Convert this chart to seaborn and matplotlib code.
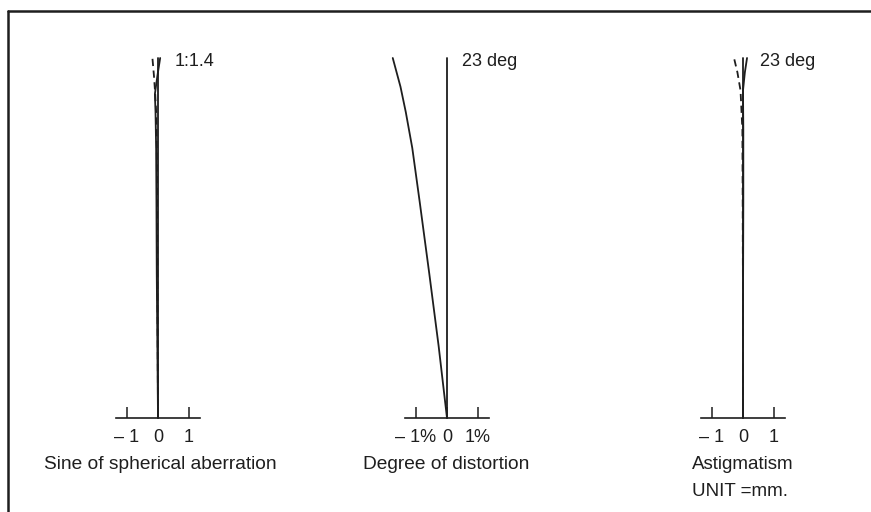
import seaborn as sns
import matplotlib.pyplot as plt
from matplotlib.lines import Line2D

# relative height in the field (0 = axis, 1 = edge)
sa_height = [0.0, 0.2, 0.4, 0.6, 0.75, 0.85, 0.9, 0.95, 1.0]
sa_solid = [0.0, -0.02, -0.04, -0.05, -0.06, -0.08, -0.1, -0.02, 0.07]
sa_dashed = [0.0, -0.01, -0.02, -0.03, -0.04, -0.06, -0.09, -0.13, -0.18]

dist_height = [0.0, 0.2, 0.4, 0.6, 0.75, 0.85, 0.92, 1.0]
dist_pct = [0.0, -0.27, -0.57, -0.88, -1.12, -1.33, -1.5, -1.75]

ast_height = [0.0, 0.3, 0.6, 0.8, 0.91, 0.96, 1.0]
ast_sag = [0.0, 0.0, 0.01, 0.01, 0.0, 0.06, 0.13]
ast_mer = [0.0, 0.0, -0.01, -0.02, -0.08, -0.18, -0.29]

tick_pos = [-1, 0, 1]
tick_labels_mm = ["\u2013 1", "0", "1"]
tick_labels_pct = ["\u2013 1%", "0", "1%"]

sns.set_theme(style="white")
plt.rcParams["font.family"] = ["Liberation Sans", "DejaVu Sans"]

fig = plt.figure(figsize=(8.71, 5.12), dpi=100)
W, H = 871, 512
INK = "#1e1e1e"


def make_axes(cx):
    """Axes centred on pixel column cx, 31 px per unit, y 0..1 = px 418..58."""
    left = (cx - 62) / W
    bottom = (H - 418) / H
    ax = fig.add_axes([left, bottom, 124 / W, 360 / H])
    ax.set_xlim(-2, 2)
    ax.set_ylim(0, 1)
    ax.patch.set_alpha(0)
    for s in ["left", "right", "top"]:
        ax.spines[s].set_visible(False)
    ax.spines["bottom"].set_color(INK)
    ax.spines["bottom"].set_linewidth(1.2)
    ax.spines["bottom"].set_bounds(-1.35, 1.35)
    ax.set_yticks([])
    ax.set_xticks(tick_pos)
    ax.tick_params(axis="x", direction="in", length=8, width=1.1,
                   color=INK, labelsize=13, pad=8, bottom=True,
                   labelcolor=INK)
    ax.axvline(0, ymin=0, ymax=1, color=INK, lw=1.3, clip_on=False)
    return ax


def curve(ax, x, y, dashed=False):
    sns.lineplot(x=x, y=y, sort=False, estimator=None, ax=ax, color=INK,
                 lw=1.3, linestyle=(0, (4, 2.5)) if dashed else "-",
                 clip_on=False)


ax1 = make_axes(158)
curve(ax1, sa_dashed, sa_height, dashed=True)
curve(ax1, sa_solid, sa_height)
ax1.set_xticklabels(tick_labels_mm)
ax1.text(0.55, 0.99, "1:1.4", fontsize=13, va="center", ha="left", color=INK)
ax1.text(0.06, -0.128, "Sine of spherical aberration", fontsize=13.8,
         ha="center", va="center", clip_on=False, color=INK)

ax2 = make_axes(447)
curve(ax2, dist_pct, dist_height)
ax2.set_xticklabels(tick_labels_pct)
ax2.text(0.48, 0.99, "23 deg", fontsize=13, va="center", ha="left", color=INK)
ax2.text(-0.03, -0.128, "Degree of distortion", fontsize=13.8,
         ha="center", va="center", clip_on=False, color=INK)

ax3 = make_axes(743)
curve(ax3, ast_mer, ast_height, dashed=True)
curve(ax3, ast_sag, ast_height)
ax3.set_xticklabels(tick_labels_mm)
ax3.text(0.55, 0.99, "23 deg", fontsize=13, va="center", ha="left", color=INK)
ax3.text(-1.65, -0.128, "Astigmatism", fontsize=13.5, ha="left",
         va="center", clip_on=False, color=INK)
ax3.text(-1.65, -0.203, "UNIT =mm.", fontsize=13.5, ha="left",
         va="center", clip_on=False, color=INK)

for ax in (ax1, ax2, ax3):
    ax.set_xlabel("")
    ax.set_ylabel("")

# frame: top rule and left rule
fig.add_artist(Line2D([8 / W, 1.0], [1 - 11 / H, 1 - 11 / H],
                      color=INK, lw=1.8, transform=fig.transFigure))
fig.add_artist(Line2D([8 / W, 8 / W], [0.0, 1 - 11 / H],
                      color=INK, lw=1.8, transform=fig.transFigure))

fig.savefig("out.png", dpi=100, facecolor="white")
